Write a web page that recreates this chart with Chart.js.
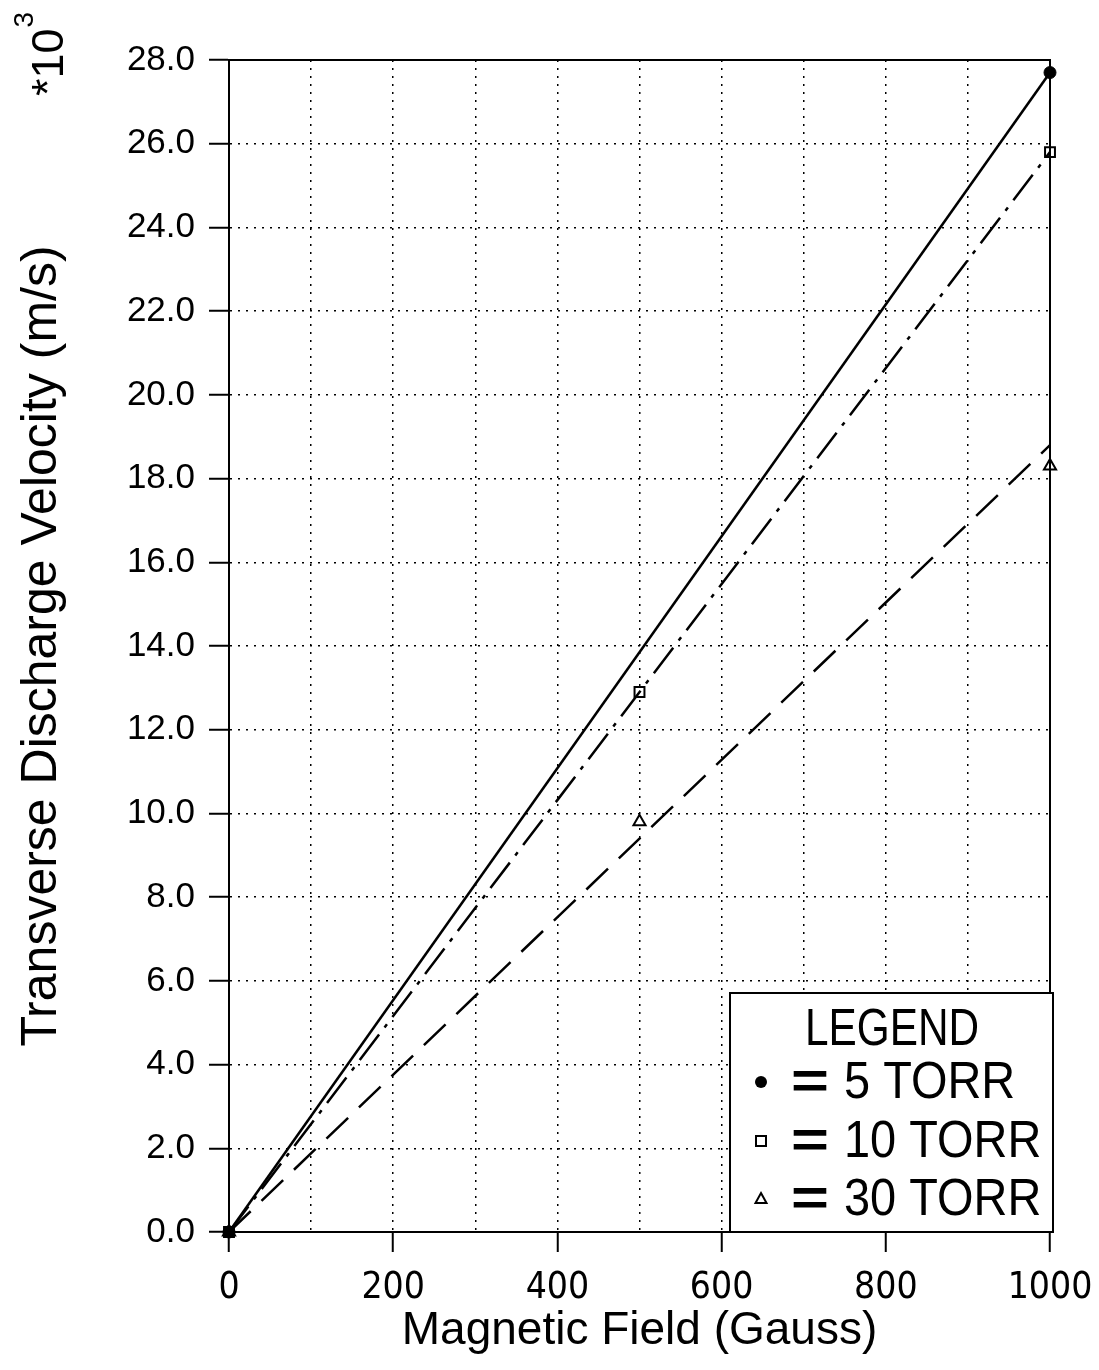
<!DOCTYPE html>
<html>
<head>
<meta charset="utf-8">
<script src="https://cdn.jsdelivr.net/npm/chart.js@4.4.1/dist/chart.umd.min.js"></script>
<style>
  html, body { margin: 0; padding: 0; background: #fff; }
  canvas { display: block; }
</style>
</head>
<body>
<canvas id="velChart" width="1099" height="1370"></canvas>
<script>
// measured points (Gauss, m/s * 1e3)
const field5 = [0, 1000];
const vel5 = [0, 27.7];
const field10 = [0, 500, 1000];
const vel10 = [0, 12.9, 25.8];
const field30 = [0, 500, 1000];
const vel30 = [0, 9.8, 18.3];

// straight fit lines through the origin
const fitField = [0, 1000];
const fit5 = [0, 27.7];
const fit10 = [0, 25.8];
const fit30 = [0, 18.8];

const legendLabels = ['5 TORR', '10 TORR', '30 TORR'];

const narrow = '"Liberation Sans Narrow", "DejaVu Sans Condensed", "Liberation Sans", sans-serif';
const sans = '"Liberation Sans", Arial, sans-serif';

function pts(xs, ys) {
  return xs.map((x, i) => ({ x: x, y: ys[i] }));
}

// squeezed text, the plotter font is narrower than Liberation Sans
function squeezed(ctx, text, x, y, sx) {
  ctx.save();
  ctx.translate(x, y);
  ctx.scale(sx, 1);
  ctx.fillText(text, 0, 0);
  ctx.restore();
}

const frameAndExtras = {
  id: 'frameAndExtras',
  afterDatasetsDraw(chart) {
    const ctx = chart.ctx;
    const a = chart.chartArea;
    ctx.save();
    // frame
    ctx.strokeStyle = '#000';
    ctx.lineWidth = 2;
    ctx.strokeRect(a.left, a.top, a.right - a.left, a.bottom - a.top);

    // legend box
    const bx = 730, by = 993, bw = a.right + 3 - 730, bh = a.bottom - 993;
    ctx.fillStyle = '#fff';
    ctx.fillRect(bx, by, bw, bh);
    ctx.strokeRect(bx, by, bw, bh);
    ctx.fillStyle = '#000';
    ctx.textBaseline = 'alphabetic';
    ctx.textAlign = 'left';
    ctx.font = '51px ' + sans;
    squeezed(ctx, 'LEGEND', 805, 1045, 0.83);

    const rowY = [1098, 1157, 1215];
    rowY.forEach((y, i) => {
      const my = y - 16;
      const mx = 761;
      ctx.lineWidth = 2;
      if (i === 0) {
        ctx.beginPath();
        ctx.arc(mx, my, 6, 0, Math.PI * 2);
        ctx.fill();
      } else if (i === 1) {
        ctx.strokeRect(mx - 5, my - 5, 10, 10);
      } else {
        ctx.beginPath();
        ctx.moveTo(mx, my - 6);
        ctx.lineTo(mx + 5.5, my + 4);
        ctx.lineTo(mx - 5.5, my + 4);
        ctx.closePath();
        ctx.stroke();
      }
      ctx.font = 'bold 52px ' + sans;
      squeezed(ctx, '=', 791, y, 1.25);
      ctx.font = '51px ' + sans;
      squeezed(ctx, legendLabels[i], 844, y, 0.92);
    });

    // *10^3 multiplier
    ctx.translate(63, 96);
    ctx.rotate(-Math.PI / 2);
    ctx.font = '45px ' + sans;
    ctx.fillText('*10', 0, 0);
    const w = ctx.measureText('*10').width;
    ctx.font = '28px ' + sans;
    ctx.fillText('3', w + 1, -30);
    ctx.restore();
  }
};

const ctx = document.getElementById('velChart').getContext('2d');

new Chart(ctx, {
  type: 'scatter',
  data: {
    datasets: [{
      label: '5 TORR fit',
      data: pts(fitField, fit5),
      showLine: true,
      borderColor: '#000',
      borderWidth: 2.5,
      pointRadius: 0
    }, {
      label: '10 TORR fit',
      data: pts(fitField, fit10),
      showLine: true,
      borderColor: '#000',
      borderWidth: 2.5,
      borderDash: [32, 9, 4, 9],
      pointRadius: 0
    }, {
      label: '30 TORR fit',
      data: pts(fitField, fit30),
      showLine: true,
      borderColor: '#000',
      borderWidth: 2.5,
      borderDash: [30, 15],
      pointRadius: 0
    }, {
      label: '5 TORR',
      data: pts(field5, vel5),
      pointStyle: 'circle',
      pointRadius: 6,
      backgroundColor: '#000',
      borderColor: '#000',
      clip: false
    }, {
      label: '10 TORR',
      data: pts(field10, vel10),
      pointStyle: 'rect',
      pointRadius: 7,
      borderWidth: 2,
      backgroundColor: '#fff',
      borderColor: '#000',
      clip: false
    }, {
      label: '30 TORR',
      data: pts(field30, vel30),
      pointStyle: 'triangle',
      pointRadius: 7,
      borderWidth: 2,
      backgroundColor: '#fff',
      borderColor: '#000',
      clip: false
    }]
  },
  options: {
    responsive: false,
    animation: false,
    devicePixelRatio: 1,
    layout: { padding: { top: 60, right: 49, left: 0, bottom: 0 } },
    plugins: {
      legend: { display: false },
      tooltip: { enabled: false }
    },
    scales: {
      x: {
        type: 'linear',
        min: 0,
        max: 1000,
        afterFit: (scale) => {
          scale.height = 138;
          scale.paddingLeft = 0;
          scale.paddingRight = 0;
        },
        border: { display: true, color: '#000', width: 2, dash: [2, 6] },
        grid: {
          color: '#000',
          lineWidth: 1.5,
          tickLength: 20,
          tickBorderDash: [],
          tickWidth: 2,
          tickColor: (c) => (c.tick && c.tick.value % 200 === 0) ? '#000' : 'rgba(0,0,0,0)'
        },
        ticks: {
          stepSize: 100,
          color: '#000',
          padding: 14,
          maxRotation: 0,
          autoSkip: false,
          font: { family: narrow, size: 37 },
          callback: (v) => v % 200 === 0 ? String(v) : ''
        },
        title: {
          display: true,
          text: 'Magnetic Field (Gauss)',
          color: '#000',
          font: { family: sans, size: 46 },
          padding: { top: 0, bottom: 11 }
        }
      },
      y: {
        type: 'linear',
        min: 0,
        max: 28,
        afterFit: (scale) => {
          scale.width = 229;
          scale.paddingTop = 0;
          scale.paddingBottom = 0;
        },
        border: { display: true, color: '#000', width: 2, dash: [2, 6] },
        grid: {
          color: '#000',
          lineWidth: 1.5,
          tickLength: 20,
          tickBorderDash: [],
          tickWidth: 2,
          tickColor: '#000'
        },
        ticks: {
          stepSize: 2,
          color: '#000',
          padding: 14,
          autoSkip: false,
          font: { family: sans, size: 35 },
          callback: (v) => v.toFixed(1)
        },
        title: {
          display: true,
          text: 'Transverse Discharge Velocity (m/s)',
          color: '#000',
          font: { family: sans, size: 50 },
          padding: { top: 12, bottom: 0 }
        }
      }
    }
  },
  plugins: [frameAndExtras]
});
</script>
</body>
</html>
